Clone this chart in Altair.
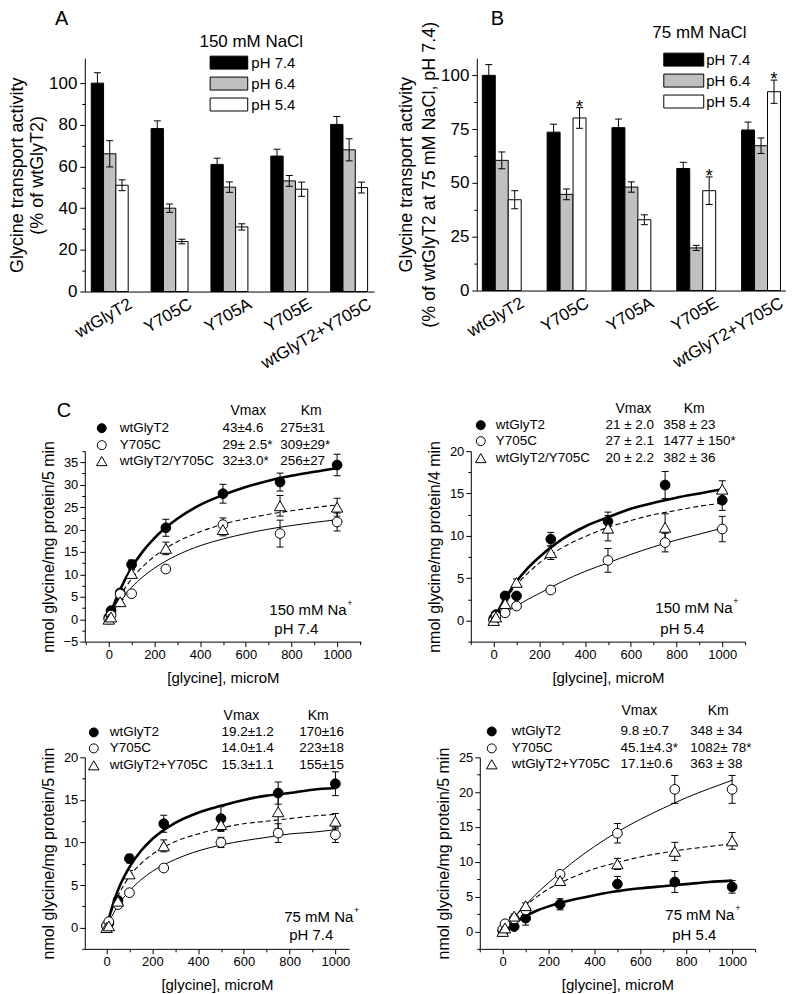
import altair as alt
import pandas as pd

FONT = "Liberation Sans"

# ---------------- Panels A and B (bar charts) ----------------
GROUPS = ["wtGlyT2", "Y705C", "Y705A", "Y705E", "wtGlyT2+Y705C"]
PH = ["pH 7.4", "pH 6.4", "pH 5.4"]

A_74 = [100.0, 78.2, 61.0, 65.0, 80.2]
A_74_ERR = [5.0, 3.7, 3.0, 3.3, 3.8]
A_64 = [66.1, 40.0, 50.1, 53.1, 68.0]
A_64_ERR = [6.3, 2.0, 2.5, 2.6, 5.3]
A_54 = [51.0, 24.0, 31.0, 49.1, 49.9]
A_54_ERR = [2.6, 1.1, 1.5, 3.4, 2.6]

B_74 = [100.0, 73.6, 75.7, 56.7, 74.6]
B_74_ERR = [5.0, 3.7, 4.0, 2.9, 3.7]
B_64 = [60.5, 44.7, 48.1, 19.8, 67.3]
B_64_ERR = [3.9, 2.5, 2.4, 1.2, 3.6]
B_54 = [42.2, 80.2, 32.9, 46.4, 92.4]
B_54_ERR = [4.2, 4.8, 2.3, 6.4, 5.4]
B_54_STAR = [False, True, False, True, True]
A_54_STAR = [False, False, False, False, False]

# ---------------- Panels C (kinetics) ----------------
CONC = [0, 10, 50, 100, 250, 500, 750, 1000]
CURVE_X = [0, 25, 50, 100, 150, 200, 300, 400, 500, 600, 700, 800, 900, 1000]

C1_WT = [0.4, 1.9, 5.9, 12.2, 20.4, 28.0, 30.6, 34.4]
C1_WT_ERR = [0.3, 0.5, 0.6, 1.0, 1.9, 2.1, 2.0, 2.4]
C1_MU = [0.0, 0.9, 5.6, 5.7, 11.2, 21.1, 19.1, 21.7]
C1_MU_ERR = [0.3, 0.4, 0.5, 0.6, 0.6, 1.5, 3.0, 2.0]
C1_TRI = [0.0, 0.5, 3.9, 10.2, 15.8, 20.0, 25.3, 25.0]
C1_TRI_ERR = [0.3, 0.3, 0.5, 0.8, 1.4, 1.4, 2.3, 2.0]
C1_FIT_WT = [0, 3.6, 6.6, 11.5, 15.2, 18.1, 22.4, 25.5, 27.7, 29.5, 30.9, 32.0, 32.9, 33.7]
C1_FIT_MU = [0, 2.2, 4.0, 7.1, 9.5, 11.4, 14.3, 16.4, 17.9, 19.1, 20.1, 20.9, 21.6, 22.2]
C1_FIT_TRI = [0, 2.9, 5.2, 9.0, 11.8, 14.0, 17.3, 19.5, 21.2, 22.4, 23.4, 24.2, 24.9, 25.5]
C1_NAMES = ["wtGlyT2", "Y705C", "wtGlyT2/Y705C"]
C1_VMAX = ["43±4.6", "29± 2.5*", "32±3.0*"]
C1_KM = ["275±31", "309±29*", "256±27"]

C2_WT = [0.2, 0.7, 2.9, 2.9, 9.6, 11.7, 16.0, 14.2]
C2_WT_ERR = [0.2, 0.2, 0.3, 0.4, 0.8, 1.1, 1.6, 1.2]
C2_MU = [0.0, 0.5, 0.9, 1.7, 3.6, 7.1, 9.2, 10.8]
C2_MU_ERR = [0.2, 0.3, 0.3, 0.4, 0.3, 1.4, 1.1, 1.5]
C2_TRI = [0.0, 0.4, 2.0, 4.5, 8.0, 10.9, 11.0, 15.5]
C2_TRI_ERR = [0.3, 0.3, 0.3, 0.4, 0.8, 1.5, 1.6, 1.0]
C2_FIT_WT = [0, 1.4, 2.6, 4.6, 6.2, 7.5, 9.6, 11.1, 12.2, 13.2, 13.9, 14.5, 15.0, 15.5]
C2_FIT_MU = [0, 0.45, 0.9, 1.7, 2.5, 3.2, 4.6, 5.8, 6.8, 7.8, 8.7, 9.5, 10.2, 10.9]
C2_FIT_TRI = [0, 1.3, 2.4, 4.2, 5.6, 6.8, 8.6, 9.9, 11.0, 11.8, 12.5, 13.0, 13.5, 13.85]
C2_NAMES = ["wtGlyT2", "Y705C", "wtGlyT2/Y705C"]
C2_VMAX = ["21 ± 2.0", "27 ± 2.1", "20 ± 2.2"]
C2_KM = ["358 ± 23", "1477 ± 150*", "382 ± 36"]

C3_WT = [0.2, 0.5, 3.2, 8.1, 12.2, 12.8, 15.8, 16.9]
C3_WT_ERR = [0.2, 0.2, 0.3, 0.5, 1.0, 1.4, 1.3, 1.4]
C3_MU = [0.2, 0.7, 2.7, 4.1, 7.0, 10.0, 11.1, 10.9]
C3_MU_ERR = [0.2, 0.2, 0.3, 0.3, 0.3, 0.6, 1.1, 0.9]
C3_TRI = [0.0, 0.2, 3.1, 6.3, 9.6, 12.1, 13.6, 12.5]
C3_TRI_ERR = [0.2, 0.2, 0.3, 0.4, 0.7, 0.8, 2.0, 0.9]
C3_FIT_WT = [0, 2.5, 4.4, 7.1, 9.0, 10.4, 12.3, 13.5, 14.3, 15.0, 15.5, 15.8, 16.2, 16.4]
C3_FIT_MU = [0, 1.4, 2.6, 4.3, 5.6, 6.6, 8.0, 9.0, 9.7, 10.2, 10.6, 11.0, 11.2, 11.5]
C3_FIT_TRI = [0, 2.1, 3.7, 6.0, 7.5, 8.6, 10.1, 11.0, 11.7, 12.2, 12.5, 12.8, 13.1, 13.3]
C3_NAMES = ["wtGlyT2", "Y705C", "wtGlyT2+Y705C"]
C3_VMAX = ["19.2±1.2", "14.0±1.4", "15.3±1.1"]
C3_KM = ["170±16", "223±18", "155±15"]

C4_WT = [0.1, 0.3, 0.7, 1.9, 3.9, 6.8, 7.1, 6.4]
C4_WT_ERR = [0.2, 0.2, 0.3, 1.0, 0.8, 1.1, 1.5, 0.9]
C4_MU = [0.3, 1.1, 1.8, 3.1, 8.2, 14.1, 20.4, 20.4]
C4_MU_ERR = [0.2, 0.3, 0.3, 0.5, 0.4, 1.4, 2.0, 2.0]
C4_TRI = [0.0, 0.5, 2.2, 3.7, 7.3, 9.7, 11.5, 13.0]
C4_TRI_ERR = [0.2, 0.2, 0.3, 0.4, 0.6, 0.8, 1.3, 1.2]
C4_FIT_WT = [0, 0.66, 1.2, 2.2, 3.0, 3.6, 4.5, 5.2, 5.8, 6.2, 6.5, 6.8, 7.1, 7.3]
C4_FIT_MU = [0, 1.0, 2.0, 3.8, 5.5, 7.0, 9.8, 12.2, 14.3, 16.1, 17.7, 19.2, 20.5, 21.7]
C4_FIT_TRI = [0, 1.1, 2.1, 3.7, 5.0, 6.1, 7.7, 9.0, 9.9, 10.7, 11.3, 11.8, 12.2, 12.6]
C4_NAMES = ["wtGlyT2", "Y705C", "wtGlyT2+Y705C"]
C4_VMAX = ["9.8 ±0.7", "45.1±4.3*", "17.1±0.6"]
C4_KM = ["348 ± 34", "1082± 78*", "363 ± 38"]


def txt(s, x, y, size=14, align="left", baseline="middle"):
    return alt.Chart(pd.DataFrame({"t": [s]})).mark_text(
        align=align, baseline=baseline, fontSize=size, font=FONT, color="black"
    ).encode(x=alt.value(x), y=alt.value(y), text="t:N")


def anchor(x):
    return alt.Chart(pd.DataFrame({"a": [0]})).mark_point(
        opacity=0, size=1, filled=True
    ).encode(x=alt.value(x), y=alt.value(0))


def bar_panel(vals, errs, stars, width, height, ydom, yvals, label_mod, ytitle, title_lh,
              pad_in, pad_out, sym_path, legend_x, legend_y, label_offset,
              leg_title, lt_x, lt_y, letter, letter_x, anchor_x=None):
    rows = []
    for gi, g in enumerate(GROUPS):
        for pi, p in enumerate(PH):
            v = vals[pi][gi]
            e = errs[pi][gi]
            rows.append({"group": g, "pH": p, "value": v, "lo": v - e, "hi": v + e,
                         "star": "*" if (pi == 2 and stars[gi]) else ""})
    df = pd.DataFrame(rows)
    xaxis = alt.Axis(title=None, labelAngle=-30, labelAlign="right", labelBaseline="top",
                     labelOffset=17, labelPadding=4, labelFontSize=17, ticks=False,
                     domainColor="black", labelColor="black")

    def xe():
        return alt.X("group:N", sort=GROUPS,
                     scale=alt.Scale(paddingInner=pad_in, paddingOuter=pad_out), axis=xaxis)

    xo = alt.XOffset("pH:N", sort=PH, scale=alt.Scale(paddingInner=0, paddingOuter=0))
    yaxis = alt.Axis(values=yvals,
                     labelExpr=f"datum.value % {label_mod} === 0 ? datum.label : ''",
                     tickSize={"condition": {"test": f"datum.value % {label_mod} === 0", "value": 5},
                               "value": 3},
                     title=ytitle, titleFontSize=18, titleFontWeight="normal",
                     titleLineHeight=title_lh, titlePadding=2, labelFontSize=17, labelPadding=3,
                     grid=False, domainColor="black", tickColor="black", labelColor="black",
                     titleColor="black")

    def ye(f):
        return alt.Y(f, scale=alt.Scale(domain=ydom, nice=False, zero=False), axis=yaxis)

    leg = alt.Legend(title=None, orient="none", legendX=legend_x, legendY=legend_y,
                     symbolType=sym_path, symbolSize=169, symbolStrokeColor="black",
                     symbolStrokeWidth=1, labelFontSize=15, labelOffset=label_offset,
                     rowPadding=4, padding=0, labelColor="black")
    base = alt.Chart(df)
    bars = base.mark_bar(stroke="black", strokeWidth=1).encode(
        x=xe(), xOffset=xo, y=ye("value:Q"),
        fill=alt.Fill("pH:N", sort=PH,
                      scale=alt.Scale(domain=PH, range=["#000000", "#c0c0c0", "#ffffff"]),
                      legend=leg))
    err = base.mark_rule(color="black", strokeWidth=1).encode(
        x=xe(), xOffset=xo, y=ye("lo:Q"), y2="hi:Q")
    cap_lo = base.mark_tick(orient="horizontal", size=7, thickness=1, color="black", opacity=1).encode(
        x=xe(), xOffset=xo, y=ye("lo:Q"))
    cap_hi = base.mark_tick(orient="horizontal", size=7, thickness=1, color="black", opacity=1).encode(
        x=xe(), xOffset=xo, y=ye("hi:Q"))
    star = base.transform_filter("datum.star != ''").mark_text(
        fontSize=18, baseline="alphabetic", dy=5, color="black", font=FONT).encode(
        x=xe(), xOffset=xo, y=ye("hi:Q"), text="star:N")
    layers = [bars, err, cap_lo, cap_hi, star,
              txt(leg_title, lt_x, lt_y, size=17),
              txt(letter, letter_x, -49, size=20, baseline="top")]
    if anchor_x is not None:
        layers.append(anchor(anchor_x))
    return alt.layer(*layers).properties(width=width, height=height)


STY = [dict(shape="circle", fill="black", size=95),
       dict(shape="circle", fill="white", size=95),
       dict(shape="triangle-up", fill="white", size=130)]
LSTY = [dict(strokeWidth=2.6), dict(strokeWidth=1), dict(strokeWidth=1.1, strokeDash=[5, 3])]


def kin_panel(series, errs, fits, xdom, ydom, width, height, ytitle,
              sym_x, row_y, name_x, vmax_x, km_x, head_y, vmax_hx, km_hx,
              names, vmaxs, kms, na_txt, na_x, na_y, ph_txt, ph_x, ph_y,
              letter=None, anchor_x=None):
    xvals = [v for v in range(-100, 1101, 100) if xdom[0] <= v <= xdom[1]]
    yvals = []
    v = ydom[0]
    while v <= ydom[1] + 1e-9:
        yvals.append(v)
        v += 2.5
    xaxis = alt.Axis(values=xvals, format="d",
                     labelExpr="datum.value >= 0 && datum.value % 200 === 0 ? datum.label : ''",
                     tickSize={"condition": {"test": "datum.value % 200 === 0", "value": 5}, "value": 3},
                     title="[glycine], microM", titleFontSize=15, titleFontWeight="normal",
                     titlePadding=9, labelFontSize=13, labelPadding=2, grid=False,
                     domainColor="black", tickColor="black", labelColor="black", titleColor="black")
    yaxis = alt.Axis(values=yvals,
                     labelExpr="datum.value % 5 === 0 ? datum.label : ''",
                     tickSize={"condition": {"test": "datum.value % 5 === 0", "value": 5}, "value": 3},
                     title=ytitle, titleFontSize=16, titleFontWeight="normal", titlePadding=7,
                     labelFontSize=13, labelPadding=2, grid=False,
                     domainColor="black", tickColor="black", labelColor="black", titleColor="black")

    def xe(f):
        return alt.X(f, scale=alt.Scale(domain=xdom, nice=False, zero=False), axis=xaxis)

    def ye(f):
        return alt.Y(f, scale=alt.Scale(domain=ydom, nice=False, zero=False), axis=yaxis)

    layers = []
    for i in range(3):
        cdf = pd.DataFrame({"x": CURVE_X, "y": fits[i]})
        layers.append(alt.Chart(cdf).mark_line(interpolate="monotone", color="black", **LSTY[i]).encode(
            x=xe("x:Q"), y=ye("y:Q")))
    pdfs = []
    for i in range(3):
        pdfs.append(pd.DataFrame({"x": CONC, "y": series[i],
                                  "lo": [a - b for a, b in zip(series[i], errs[i])],
                                  "hi": [a + b for a, b in zip(series[i], errs[i])]}))
    for i in range(3):
        b = alt.Chart(pdfs[i])
        layers.append(b.mark_rule(color="black", strokeWidth=1).encode(
            x=xe("x:Q"), y=ye("lo:Q"), y2="hi:Q"))
        layers.append(b.mark_tick(orient="horizontal", size=7, thickness=1, color="black", opacity=1).encode(
            x=xe("x:Q"), y=ye("lo:Q")))
        layers.append(b.mark_tick(orient="horizontal", size=7, thickness=1, color="black", opacity=1).encode(
            x=xe("x:Q"), y=ye("hi:Q")))
    for i in range(3):
        s = STY[i]
        layers.append(alt.Chart(pdfs[i]).mark_point(
            shape=s["shape"], filled=True, fill=s["fill"], stroke="black", strokeWidth=1,
            size=s["size"], opacity=1).encode(x=xe("x:Q"), y=ye("y:Q")))
    # legend table
    for i in range(3):
        s = STY[i]
        layers.append(alt.Chart(pd.DataFrame({"a": [0]})).mark_point(
            shape=s["shape"], filled=True, fill=s["fill"], stroke="black", strokeWidth=1,
            size=s["size"] * 0.85, opacity=1).encode(x=alt.value(sym_x), y=alt.value(row_y[i])))
        layers.append(txt(names[i], name_x, row_y[i], size=13.5))
        layers.append(txt(vmaxs[i], vmax_x, row_y[i], size=13.5))
        layers.append(txt(kms[i], km_x, row_y[i], size=13.5))
    layers.append(txt("Vmax", vmax_hx, head_y, align="center"))
    layers.append(txt("Km", km_hx, head_y, align="center"))
    layers.append(txt(na_txt, na_x, na_y, size=15))
    layers.append(txt("+", na_x + (78 if na_txt.startswith("150") else 70), na_y - 7, size=9))
    layers.append(txt(ph_txt, ph_x, ph_y, size=15))
    if letter:
        layers.append(txt(letter, -28, -50, size=20, baseline="top"))
    if anchor_x is not None:
        layers.append(anchor(anchor_x))
    return alt.layer(*layers).properties(width=width, height=height)


RECT_A = "M-2.9,-1H2.9V1H-2.9Z"
RECT_B = "M-3.08,-1H3.08V1H-3.08Z"

panel_a = bar_panel([A_74, A_64, A_54], [A_74_ERR, A_64_ERR, A_54_ERR], A_54_STAR,
                    290, 234, [0, 112], list(range(0, 101, 10)), 20,
                    ["Glycine transport activity", "(% of wtGlyT2)"], 20,
                    0.383, 0.108, RECT_A, 137, -3, 15, "150 mM NaCl", 115, -16, "A", -30,
                    anchor_x=-75)
panel_b = bar_panel([B_74, B_64, B_54], [B_74_ERR, B_64_ERR, B_54_ERR], B_54_STAR,
                    310, 233, [0, 108], [0, 12.5, 25, 37.5, 50, 62.5, 75, 87.5, 100], 25,
                    ["Glycine transport activity", "(% of wtGlyT2 at 75 mM NaCl, pH 7.4)"], 23,
                    0.40, 0.085, RECT_B, 200, -6, 15, "75 mM NaCl", 176, -25, "B", 14)

panel_c1 = kin_panel([C1_WT, C1_MU, C1_TRI], [C1_WT_ERR, C1_MU_ERR, C1_TRI_ERR],
                     [C1_FIT_WT, C1_FIT_MU, C1_FIT_TRI], [-105, 1105], [-5, 37.5], 277, 191,
                     "nmol glycine/mg protein/5 min",
                     17, [-23, -6, 10], 35, 138, 196, -40, 164, 227,
                     C1_NAMES, C1_VMAX, C1_KM, "150 mM Na", 185, 159, "pH 7.4", 190, 178,
                     letter="C", anchor_x=-72)
panel_c2 = kin_panel([C2_WT, C2_MU, C2_TRI], [C2_WT_ERR, C2_MU_ERR, C2_TRI_ERR],
                     [C2_FIT_WT, C2_FIT_MU, C2_FIT_TRI], [-100, 1100], [-2.5, 20], 275, 191,
                     "nmol glycine/mg protein/4 min",
                     10, [-26, -10, 7], 25, 135, 193, -42, 163, 224,
                     C2_NAMES, C2_VMAX, C2_KM, "150 mM Na", 185, 157, "pH 5.4", 190, 178)
panel_c3 = kin_panel([C3_WT, C3_MU, C3_TRI], [C3_WT_ERR, C3_MU_ERR, C3_TRI_ERR],
                     [C3_FIT_WT, C3_FIT_MU, C3_FIT_TRI], [-95, 1060], [-2.5, 20], 265, 192,
                     "nmol glycine/mg protein/5 min",
                     9, [-25, -9, 8], 25, 137, 215, -41, 157, 234,
                     C3_NAMES, C3_VMAX, C3_KM, "75 mM Na", 200, 160, "pH 7.4", 205, 178,
                     anchor_x=-70)
panel_c4 = kin_panel([C4_WT, C4_MU, C4_TRI], [C4_WT_ERR, C4_MU_ERR, C4_TRI_ERR],
                     [C4_FIT_WT, C4_FIT_MU, C4_FIT_TRI], [-100, 1100], [-2.5, 25], 276, 192,
                     "nmol glycine/mg protein/5 min",
                     12, [-26, -9, 7], 32, 141, 211, -46, 160, 239,
                     C4_NAMES, C4_VMAX, C4_KM, "75 mM Na", 186, 158, "pH 5.4", 193, 178)

row1 = alt.hconcat(panel_a, panel_b, spacing=103, bounds="flush").resolve_scale(
    fill="independent", xOffset="independent").resolve_legend(fill="independent")
row2 = alt.hconcat(panel_c1, panel_c2, spacing=110, bounds="flush")
row3 = alt.hconcat(panel_c3, panel_c4, spacing=131, bounds="flush")

chart = alt.vconcat(row1, alt.vconcat(row2, row3, spacing=19), spacing=30).properties(
    padding=0
).configure_view(stroke=None).configure_axis(
    labelFont=FONT, titleFont=FONT
).configure_legend(labelFont=FONT, titleFont=FONT).configure_text(font=FONT)

chart.save("out.html", embed_options={"renderer": "svg", "actions": False})
